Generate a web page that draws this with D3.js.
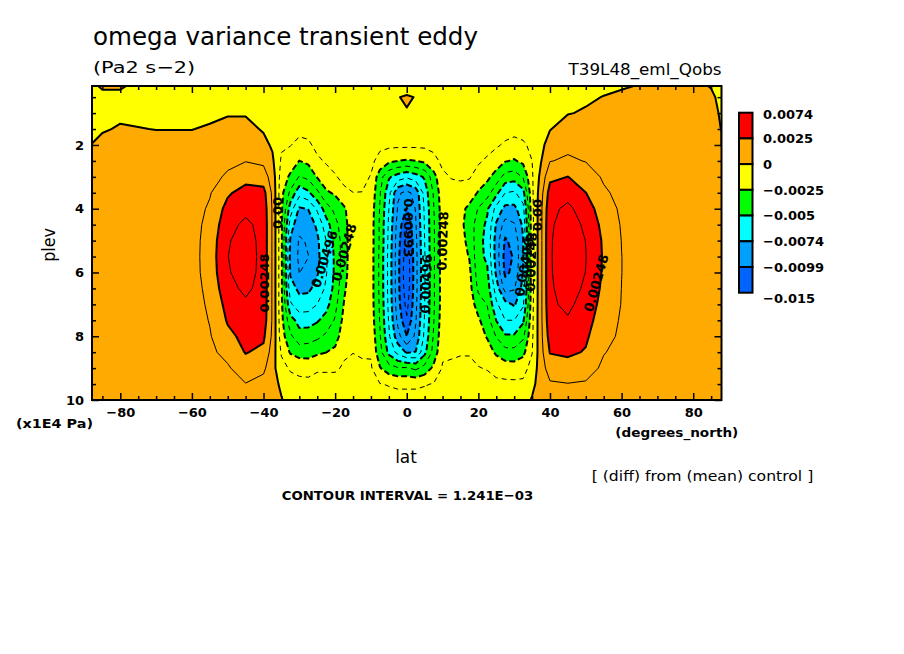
<!DOCTYPE html>
<html><head><meta charset="utf-8">
<script src="https://cdn.jsdelivr.net/npm/d3@7/dist/d3.min.js"></script>
<style>body{margin:0;background:#fff}svg{display:block}</style>
</head><body>
<svg id="c" width="904" height="654"></svg>
<script>
// ---------------- data ----------------
// latitude grid (degrees_north)
const lats = [-87.9,-85,-80,-75,-70,-65,-60,-55,-50,-45,
  -40,-37.5,-35,-32.5,-30,-27.5,-25,-22.5,-20,-17.5,-15,-12.5,-10,-7.5,-5,-2.5,0,
  2.5,5,7.5,10,12.5,15,17.5,20,22.5,25,27.5,30,32.5,35,37.5,40,
  45,50,55,60,65,70,75,80,85,87.9];
// pressure levels (x1E4 Pa), top to bottom
const plevs = [0.15,0.5,1,1.5,2,2.5,3,3.5,4,4.5,5,5.5,6,6.5,7,7.5,8,8.5,9,9.5,10];
// omega variance difference, one profile per latitude (units of 1E-4 Pa2 s-2)
const omegaVar = [
 [-3,-5,-4,-2,0.2,2,3,4,4,4.5,4.5,4.5,4.5,4.5,4.5,4.5,4.5,4,4,4,4],
 [2,-4,-4,-1,3,5,5.5,6,6,6,6,6,6,6,6,6,5.5,5.5,5,5,5],
 [2,-4,-2,1,4,5,5.5,6,6,6,6,6,6,6,6,6,5.5,5.5,5,5,5],
 [-4,-4,-2,0.3,3,5,5.5,6,6,6,6,6,6,6,6,5.5,5.5,5,5,4.5,4.5],
 [-3,-4,-3,-0.2,3,4.5,5,5.5,6,6,6,6,6,6,6,5.5,5.5,5,5,4.5,4.5],
 [-3,-4,-3,-0.2,3,4.5,5.5,6,6.5,6.5,6.5,6.5,6.5,6.5,6,6,5.5,5,5,4.5,4.5],
 [-3,-4,-3,-0.2,3,5,6,7,7.5,8,8,8,8,7.5,7,6.5,6,5.5,5,5,4.5],
 [-3,-4,-2,1,3,6,9,11.5,14,16,17.5,18,17.5,16,14.5,13,11.5,10,8,6,5],
 [-3,-4,-0.8,3,6,10,14,23,29,33,36,37,36,33,29,26,22,16,11,7,5],
 [-3,-4,-0.8,3,7,12,20,30,34,40,43,44,43,40,35,31,28,25.5,19,12,7],
 [-3,-4,-3,-1,3,10,18,29,32,33,33,33,33,32.5,32,31,27,22,15,8,5],
 [-3,-4,-4,-3,-1.5,2,7,10,11,11,11,11,11,11,11,11,10,7,4,3,2],
 [-4,-5,-6,-8,-11,-14,-18,-21,-22,-22,-22,-22,-22,-22,-22,-21,-19,-14,-8,-1.5,0.5],
 [-4,-5,-7,-9,-12,-18,-27,-40,-56,-68,-76,-78,-76,-70,-60,-45,-35,-26,-14,-7,-3],
 [-4,-5,-7,-10,-15,-25,-38,-58,-76,-84,-88,-89,-87,-77,-70,-54,-45,-30,-16,-9,-5],
 [-4,-5,-7,-9.5,-14,-22,-34,-52,-74,-82,-86,-87,-85,-77,-68,-55,-43,-30,-17,-9,-5],
 [-4,-5,-6.5,-8.5,-10,-14,-24,-40,-60,-72,-77,-78,-76,-70,-62,-51,-40,-27,-14,-8,-5],
 [-4,-5,-6,-7.5,-9,-11.5,-16,-27,-43,-55,-62,-64,-63,-60,-54,-45,-35,-25,-14,-8,-5],
 [-4,-5,-6,-7,-8,-10,-13,-23,-34,-41,-45,-47,-47,-45,-41,-36,-30,-22,-14,-8,-5],
 [-4,-5,-6,-6.5,-7,-8.5,-10.5,-14,-27,-30,-31,-31,-30,-27,-24,-21,-18,-14,-11,-7,-5],
 [-4,-5,-5.5,-6,-6.5,-7.5,-9,-12.5,-15,-15.5,-15.5,-15.5,-15.5,-15.5,-15,-14.5,-14,-12.6,-10,-7,-5],
 [-4,-5,-5.5,-6,-6.5,-7.5,-9.5,-12.6,-15,-15.5,-15.5,-15.5,-15.5,-15.5,-15.5,-15,-14,-13,-11.5,-8,-6],
 [-4,-5,-6,-7,-8,-10,-13,-16,-18,-19,-19,-19,-19,-19,-19,-18,-16,-13.5,-11,-8,-6],
 [-4,-4,-5,-7,-10,-16,-32,-36,-38,-39,-39,-40,-40,-40,-39,-38,-36,-33,-24,-12,-8],
 [-4,-3,-4,-6,-10,-22,-48,-58,-62,-64,-65,-66,-66,-66,-65,-63,-60,-53,-32,-13,-9],
 [-4,-0.5,-2,-6,-10,-25,-55,-85,-88,-92,-94,-95,-95,-95,-94,-90,-82,-66,-36,-14,-9],
 [-6,1.5,-0.8,-6,-10,-26,-60,-90,-100,-110,-116,-120,-122,-120,-116,-110,-99,-76,-36,-14,-9],
 [-4,-0.5,-2,-6,-10,-25,-55,-83,-86,-88,-90,-91,-91,-91,-90,-88,-84,-74,-40,-14,-9],
 [-4,-3,-4,-6,-10,-22,-48,-57,-60,-61,-62,-63,-63,-63,-62,-61,-59,-53,-33,-13,-9],
 [-4,-4,-5,-7,-10,-15,-30,-36,-38,-39,-39,-39,-39,-39,-39,-38,-36,-33,-22,-12,-8],
 [-4,-4,-5,-6.5,-8,-10.5,-14,-17,-18.5,-19,-19,-19,-19,-19,-19,-18,-16.5,-14,-11.5,-8,-6],
 [-4,-4,-5,-6,-7,-9,-12,-15,-16.5,-17,-17,-17,-17,-17,-17,-16.5,-15.5,-13.5,-11,-8,-6],
 [-4,-4,-5,-6,-7,-8.5,-11.5,-15,-21,-22,-21,-20,-19,-18.5,-18,-17,-16,-13,-10.5,-8,-6],
 [-4,-4,-5,-6,-7,-8.5,-11.5,-18,-28,-30,-28,-25.5,-22,-20,-18.5,-17,-15.5,-13,-10.5,-8,-6],
 [-4,-4,-5,-6,-8,-11,-17,-26,-38,-44,-46,-46,-44,-40,-30,-23,-19,-15.5,-12,-8.5,-6],
 [-4,-4,-5,-6,-9,-14,-22,-32,-48,-52,-53,-52,-48,-44,-38,-32,-26,-19,-13,-9,-6],
 [-4,-4,-5,-7,-11,-18,-30,-46,-66,-76,-80,-80,-77,-68,-60,-50,-38,-27,-16,-10,-6],
 [-4,-4,-5,-8,-14,-24,-42,-62,-78,-92,-101,-104,-102,-92,-70,-62,-48,-33,-18,-10,-6],
 [-4,-4,-5,-9,-16,-26,-44,-64,-78,-88,-95,-98,-96,-88,-76,-62,-48,-33,-19,-10,-6],
 [-4,-4,-5,-8.5,-14,-22,-36,-54,-66,-72,-75,-75,-74,-70,-64,-52,-40,-28,-17,-10,-5],
 [-4,-4,-5,-7,-10,-12.5,-14,-15,-16,-16.5,-16.5,-16.5,-16.5,-16.5,-16,-15.5,-14.5,-13,-8,-3,1],
 [-4,-4,-4.5,-5,-3,-0.5,4,8,10,10,10,10,10,10,10,10,9.5,8.5,7,5.5,4],
 [-4,-4,-3.5,-0.5,5,12,22,30,34,35.5,36,36,36,35.5,35,33,30,25.5,18,11,7],
 [-4,-2.5,-0.5,5,10,14,25,33,40,43,45,46,45,43,40,36,31,27,20,12,8],
 [-3,-1.5,1,5,9,12,18,25,31,35,37,37.5,37,35,32,29,26.5,24,18,11,8],
 [-2,0.3,3,5,7,9,11,14,18,21,23,23.5,23,22,20.5,19,17,13,10,8,6],
 [-1,2,4,5.5,6.5,7.5,8.5,9.5,10.5,11.5,12.2,12.5,12.5,12.3,12,11,10,9,8,7,6],
 [0.5,2.5,4,5,5.5,6,6.5,7,7.5,8,8,8,8,8,7.5,7.5,7,7,6.5,6,5.5],
 [1.5,3,4,5,5.5,6,6,6,6.5,6.5,6.5,6.5,6.5,6.5,6.5,6,6,6,5.5,5.5,5],
 [1.5,3,4,5,5.5,6,6,6,6.5,6.5,6.5,6.5,6.5,6.5,6.5,6,6,6,5.5,5.5,5],
 [1.5,3,4,5,5.5,6,6,6,6,6,6,6,6,6,6,6,6,5.5,5.5,5,5],
 [-0.3,1,2.5,4,5,5.5,6,6,6,6,6,6,6,6,6,6,6,5.5,5.5,5,5],
 [-2,-1.5,-1,-0.3,1.5,3,4,4.5,5,5,5,5,5,5,5,5,5,5,5,5,5]
];
const dataUnit = 1e-4;
const contourInterval = 1.241e-3;
const fillLevels = [-0.014892,-0.009928,-0.007446,-0.004964,-0.002482,0,0.002482,0.007446];
const fillColors = ["#0064ff","#00a0ff","#00ffff","#00ff00","#ffff00","#ffaa00","#ff0000"];
const legendLabels = ["0.0074","0.0025","0","-0.0025","-0.005","-0.0074","-0.0099","-0.015"];
const latTicks = [-80,-60,-40,-20,0,20,40,60,80];
const latMinorTicks = [-85,-75,-70,-65,-55,-50,-45,-35,-30,-25,-15,-10,-5,5,10,15,25,30,35,45,50,55,65,70,75,85];
const plevTicks = [2,4,6,8,10];
const plevMinorTicks = [0.5,1,1.5,2.5,3,3.5,4.5,5,5.5,6.5,7,7.5,8.5,9,9.5];
// contour labels: [text, lat, plev, angle]
const contourLabels = [
 ["0.00248",-39.7,6.33,-90],
 ["0.00",-36.1,4.13,-90],
 ["0.00496",-23.0,5.58,-72],
 ["0.00248",-17.5,5.37,-74],
 ["0.00993",0.6,4.6,90],
 ["0.00496",5.4,6.36,-88],
 ["0.00248",10.0,5.01,-88],
 ["0.00",36.4,4.2,-90],
 ["0.00496",32.8,5.83,-80],
 ["0.00248",34.7,5.67,-88],
 ["0.00248",52.9,6.33,-74]
];

// ---------------- drawing ----------------
const FONT = "DejaVu Sans, sans-serif";
const minus = s => String(s).replace(/-/g, "\u2212");
const svg = d3.select("#c");
const X0 = 92, X1 = 721.5, Y0 = 86, Y1 = 400;
const x = d3.scaleLinear().domain([lats[0], lats[lats.length-1]]).range([X0, X1]);
const y = d3.scaleLinear().domain([plevs[0], plevs[plevs.length-1]]).range([Y0, Y1]);

const n = lats.length, m = plevs.length;
const values = new Array(n*m);
for (let j=0;j<m;j++) for (let i=0;i<n;i++) values[j*n+i] = omegaVar[i][j]*dataUnit;
const latOfIdx = d3.scaleLinear().domain(d3.range(n)).range(lats).clamp(true);
const plevOfIdx = d3.scaleLinear().domain(d3.range(m)).range(plevs).clamp(true);
const px = c => x(latOfIdx(c - 0.5));
const py = c => y(plevOfIdx(c - 0.5));
const toPath = pts => "M" + pts.map(p => px(p[0]).toFixed(2) + "," + py(p[1]).toFixed(2)).join("L");
const contours = d3.contours().size([n, m]);

svg.append("clipPath").attr("id","clip").append("rect")
  .attr("x",X0).attr("y",Y0).attr("width",X1-X0).attr("height",Y1-Y0);
const plot = svg.append("g").attr("clip-path","url(#clip)");

// filled bands
plot.append("rect").attr("x",X0).attr("y",Y0).attr("width",X1-X0).attr("height",Y1-Y0).attr("fill",fillColors[0]);
for (let k=1;k<fillColors.length;k++){
  const mp = contours.contour(values, fillLevels[k]);
  const d = mp.coordinates.map(poly => poly.map(r => toPath(r)+"Z").join("")).join("");
  if (d) plot.append("path").attr("d",d).attr("fill",fillColors[k]).attr("fill-rule","evenodd").attr("stroke","none");
}

// contour lines
const same = (a,b) => a[0]===b[0] && a[1]===b[1];
const onBorder = (a,b) => (a[0]===0&&b[0]===0)||(a[0]===n&&b[0]===n)||(a[1]===0&&b[1]===0)||(a[1]===m&&b[1]===m);
function isoPath(mp){
  const out = [];
  mp.coordinates.forEach(poly => poly.forEach(ring => {
    const pts = ring.slice();
    if (pts.length < 2) return;
    if (!same(pts[0], pts[pts.length-1])) pts.push(pts[0]);
    let cur = [], segs = [], border = false;
    for (let i=0;i<pts.length-1;i++){
      const a = pts[i], b = pts[i+1];
      if (onBorder(a,b)) { border = true; if (cur.length>1) segs.push(cur); cur = []; }
      else { if (!cur.length) cur.push(a); cur.push(b); }
    }
    if (cur.length>1) segs.push(cur);
    if (!border) { out.push(toPath(pts)+"Z"); return; }
    if (segs.length>1){
      const f = segs[0], l = segs[segs.length-1];
      if (same(l[l.length-1], f[0])) { segs[0] = l.concat(f.slice(1)); segs.pop(); }
    }
    segs.forEach(s => out.push(toPath(s)));
  }));
  return out.join("");
}
const lineG = plot.append("g").attr("fill","none").attr("stroke","#000");
for (let k=-12;k<=6;k++){
  const t = k*contourInterval;
  const d = isoPath(contours.contour(values, t));
  if (!d) continue;
  const thick = (k % 2 === 0);
  lineG.append("path").attr("d",d)
    .attr("stroke-width", thick ? 2 : 1)
    .attr("stroke-dasharray", k<0 ? (thick ? "6,3" : "5,4") : null)
    .attr("stroke-linejoin","round");
}

// contour labels
plot.append("g").selectAll("text").data(contourLabels).join("text")
  .attr("transform", d => `translate(${x(d[1])},${y(d[2])}) rotate(${d[3]})`)
  .attr("text-anchor","middle").attr("dy","0.36em")
  .attr("font-family",FONT).attr("font-size",13).attr("font-weight","bold").attr("fill","#000")
  .text(d => d[0]);

// frame
svg.append("rect").attr("x",X0).attr("y",Y0).attr("width",X1-X0).attr("height",Y1-Y0)
  .attr("fill","none").attr("stroke","#000").attr("stroke-width",2);

// axes
function styleAxis(g){
  g.select(".domain").remove();
  g.selectAll(".tick line").attr("stroke","#000").attr("stroke-width",1.5);
  g.attr("font-family",FONT).attr("font-size",13).attr("font-weight","bold");
  g.selectAll("text").attr("fill","#000");
}
const fmt = d => minus(d);
svg.append("g").attr("transform",`translate(0,${Y1})`)
  .call(d3.axisBottom(x).tickValues(latTicks).tickSizeInner(-7).tickSizeOuter(0).tickPadding(8).tickFormat(fmt)).call(styleAxis);
svg.append("g").attr("transform",`translate(0,${Y1})`)
  .call(d3.axisBottom(x).tickValues(latMinorTicks).tickSizeInner(-4).tickSizeOuter(0).tickFormat("")).call(styleAxis);
svg.append("g").attr("transform",`translate(0,${Y0})`)
  .call(d3.axisTop(x).tickValues(latTicks).tickSizeInner(-7).tickSizeOuter(0).tickFormat("")).call(styleAxis);
svg.append("g").attr("transform",`translate(0,${Y0})`)
  .call(d3.axisTop(x).tickValues(latMinorTicks).tickSizeInner(-4).tickSizeOuter(0).tickFormat("")).call(styleAxis);
svg.append("g").attr("transform",`translate(${X0},0)`)
  .call(d3.axisLeft(y).tickValues(plevTicks).tickSizeInner(-7).tickSizeOuter(0).tickPadding(8).tickFormat(fmt)).call(styleAxis);
svg.append("g").attr("transform",`translate(${X0},0)`)
  .call(d3.axisLeft(y).tickValues(plevMinorTicks).tickSizeInner(-4).tickSizeOuter(0).tickFormat("")).call(styleAxis);
svg.append("g").attr("transform",`translate(${X1},0)`)
  .call(d3.axisRight(y).tickValues(plevTicks).tickSizeInner(-7).tickSizeOuter(0).tickFormat("")).call(styleAxis);
svg.append("g").attr("transform",`translate(${X1},0)`)
  .call(d3.axisRight(y).tickValues(plevMinorTicks).tickSizeInner(-4).tickSizeOuter(0).tickFormat("")).call(styleAxis);

// texts
function txt(s, xx, yy, size, opts={}){
  const t = svg.append("text").attr("x",xx).attr("y",yy).attr("font-family",FONT)
    .attr("font-size",size).attr("font-weight",opts.bold?"bold":"normal").attr("fill","#000")
    .attr("text-anchor",opts.anchor||"start").text(s);
  if (opts.len) t.attr("textLength",opts.len).attr("lengthAdjust","spacingAndGlyphs");
  if (opts.rot) t.attr("transform",`rotate(${opts.rot},${xx},${yy})`);
  return t;
}
txt("omega variance transient eddy", 93, 45, 24, {len:385});
txt(minus("(Pa2 s-2)"), 93, 72.5, 16, {len:102});
txt("T39L48_eml_Qobs", 721.5, 75, 16, {anchor:"end", len:153});
txt("plev", 54.5, 245, 17, {anchor:"middle", rot:-90, len:33.7});
txt("(x1E4 Pa)", 16, 427.5, 13, {bold:true, len:77});
txt("(degrees_north)", 738.3, 436.5, 13, {bold:true, anchor:"end", len:123});
txt("lat", 406, 463.3, 18, {anchor:"middle", len:21.7});
txt("[ (diff) from (mean) control ]", 813.3, 480.5, 13.5, {anchor:"end", len:221.6});
txt(minus("CONTOUR INTERVAL = 1.241E-03"), 407.5, 499.5, 13, {bold:true, anchor:"middle", len:251.6});

// colour bar
const legendY = d3.scaleLinear().domain([0, fillColors.length]).range([112.7, 292.7]);
const legendColors = fillColors.slice().reverse();
const lg = svg.append("g");
lg.selectAll("rect").data(legendColors).join("rect")
  .attr("x",739).attr("y",(d,i)=>legendY(i)).attr("width",13.5)
  .attr("height",(d,i)=>legendY(i+1)-legendY(i))
  .attr("fill",d=>d).attr("stroke","#000").attr("stroke-width",2);
lg.selectAll("text").data(legendLabels).join("text")
  .attr("x",763).attr("y",(d,i)=>legendY(i) + (i===0?2:(i===legendLabels.length-1?5.6:0)))
  .attr("dy","0.36em").attr("font-family",FONT).attr("font-size",13).attr("font-weight","bold").attr("fill","#000")
  .text(d=>minus(d));
</script>
</body></html>
